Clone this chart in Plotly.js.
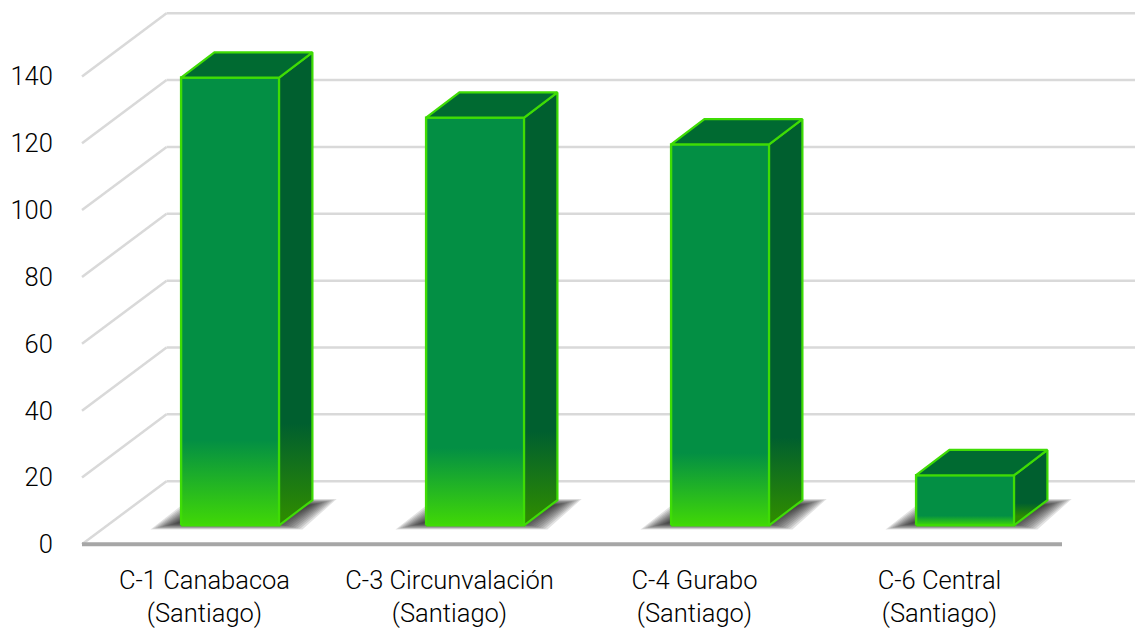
<!DOCTYPE html>
<html><head><meta charset="utf-8">
<script src="https://cdn.plot.ly/plotly-3.0.1.min.js"></script>
<style>html,body{margin:0;padding:0;background:#fff;overflow:hidden}</style>
</head><body><div id="chart" style="width:1135px;height:628px"></div>
<script>
const categories = ["C-1 Canabacoa<br>(Santiago)","C-3 Circunvalación<br>(Santiago)","C-4 Gurabo<br>(Santiago)","C-6 Central<br>(Santiago)"];
const values = [134,122,114,15];
const yTicks = [0,20,40,60,80,100,120,140];

// projection of the pseudo-3D depth, in axis units
const depthX = 0.345, depthY = 18.9;
const insetF = 0.3, depthF = 0.4, halfW = 0.2;
const xCentre = i => i + depthX*insetF + 0.001;
const base = depthY*insetF;
const bx = depthX*depthF - 0.002, by = depthY*depthF;
const FACE='#038f44', BRIGHT='#40d806', TOP='#006a31', SIDE='#005f2f', SIDEB='#2c8a02', EDGE='#3fdc05';

const traces = [{
  type:'bar', x:values.map((v,i)=>xCentre(i)), y:values, base:values.map(()=>base), width:halfW*2,
  marker:{color:FACE,line:{width:0}}, hoverinfo:'skip', showlegend:false
}];
function poly(xs,ys,extra){return Object.assign({type:'scatter',mode:'lines',x:xs,y:ys,hoverinfo:'skip',showlegend:false,fill:'toself',line:{width:0}},extra);}
values.forEach((v,i)=>{
  const l=xCentre(i)-halfW,r=xCentre(i)+halfW,b=base,t=base+v;
  // lower gradient of the front
  const g=b+v*0.19;
  traces.push(poly([l,r,r,l,l],[b,b,g,g,b],{fillgradient:{type:'vertical',start:g,stop:b,colorscale:[[0,FACE],[1,BRIGHT]]}}));
  // front outline
  traces.push({type:'scatter',mode:'lines',x:[l,r,r,l,l],y:[b,b,t,t,b],line:{color:EDGE,width:2.4},hoverinfo:'skip',showlegend:false});
  // side
  traces.push(poly([r,r+bx,r+bx,r,r],[b,b+by,t+by,t,b],{
    line:{color:EDGE,width:2.2},
    fillgradient:{type:'vertical',start:t+by,stop:b+by*0.35,colorscale:[[0,SIDE],[0.8,SIDE],[1,SIDEB]]}}));
  // top
  traces.push(poly([l,r,r+bx,l+bx,l],[t,t,t+by,t+by,t],{fillcolor:TOP,line:{color:EDGE,width:2.2}}));
});

const GRID={color:'#d9d9d9',width:2.5};
const shapes=[];
yTicks.forEach(v=>{
  if(v>0) shapes.push({type:'line',layer:'below',xref:'x',yref:'y',x0:-0.5,x1:-0.5+depthX,y0:v,y1:v+depthY,line:GRID});
  shapes.push({type:'line',layer:'below',xref:'x',yref:'y',x0:-0.5+depthX,x1:3.9,y0:v+depthY,y1:v+depthY,line:GRID});
});
shapes.push({type:'line',layer:'below',xref:'x',yref:'y',x0:-0.5,x1:-0.5+depthX,y0:0,y1:depthY,line:GRID});
shapes.push({type:'line',layer:'below',xref:'x',yref:'y',x0:-0.5,x1:3.5,y0:0,y1:0,line:{color:'#a6a6a6',width:4}});
// soft floor shadows: nested translucent parallelograms
const SOFT=[1,0.85,0.7,0.55,0.4,0.25,0.1,-0.05,-0.2,-0.35,-0.5,-0.65];
values.forEach((v,i)=>{
  const c=xCentre(i);
  SOFT.forEach(k=>{
    const ex=0.065*k, ey=1.1*k;
    const pts=[[c-0.26-ex,base-0.1-ey],[c+0.23+ex,base-0.1-ey],[c+0.37+ex,base+by-0.8+ey],[c-0.1-ex,base+by-0.8+ey]];
    shapes.push({type:'path',layer:'below',xref:'x',yref:'y',opacity:0.13,
      path:'M'+pts.map(p=>p[0]+','+p[1]).join('L')+'Z',fillcolor:'#222',line:{width:0}});
  });
});

const H=628,W=1135,L=60,PX=3.34,CAT=245,C0=204.5,YMIN=-2,B=84+YMIN*PX;
const layout={
  width:W,height:H,margin:{l:L,r:0,t:0,b:B,pad:0},paper_bgcolor:'#fff',plot_bgcolor:'#fff',showlegend:false,
  font:{family:'Roboto, sans-serif',size:25.5,color:'#000',weight:300},
  xaxis:{range:[(L-C0)/CAT,(W-C0)/CAT],tickmode:'array',tickvals:[0,1,2,3],ticktext:categories,showgrid:false,zeroline:false,showline:false,ticks:'outside',ticklen:6,tickcolor:'rgba(0,0,0,0)',fixedrange:true},
  yaxis:{range:[YMIN,(H-84)/PX],tickmode:'array',tickvals:yTicks,showgrid:false,zeroline:false,showline:false,ticks:'outside',ticklen:1,tickcolor:'rgba(0,0,0,0)',fixedrange:true},
  shapes:shapes, bargap:0
};
Plotly.newPlot('chart',traces,layout,{staticPlot:true,displayModeBar:false});
</script></body></html>
